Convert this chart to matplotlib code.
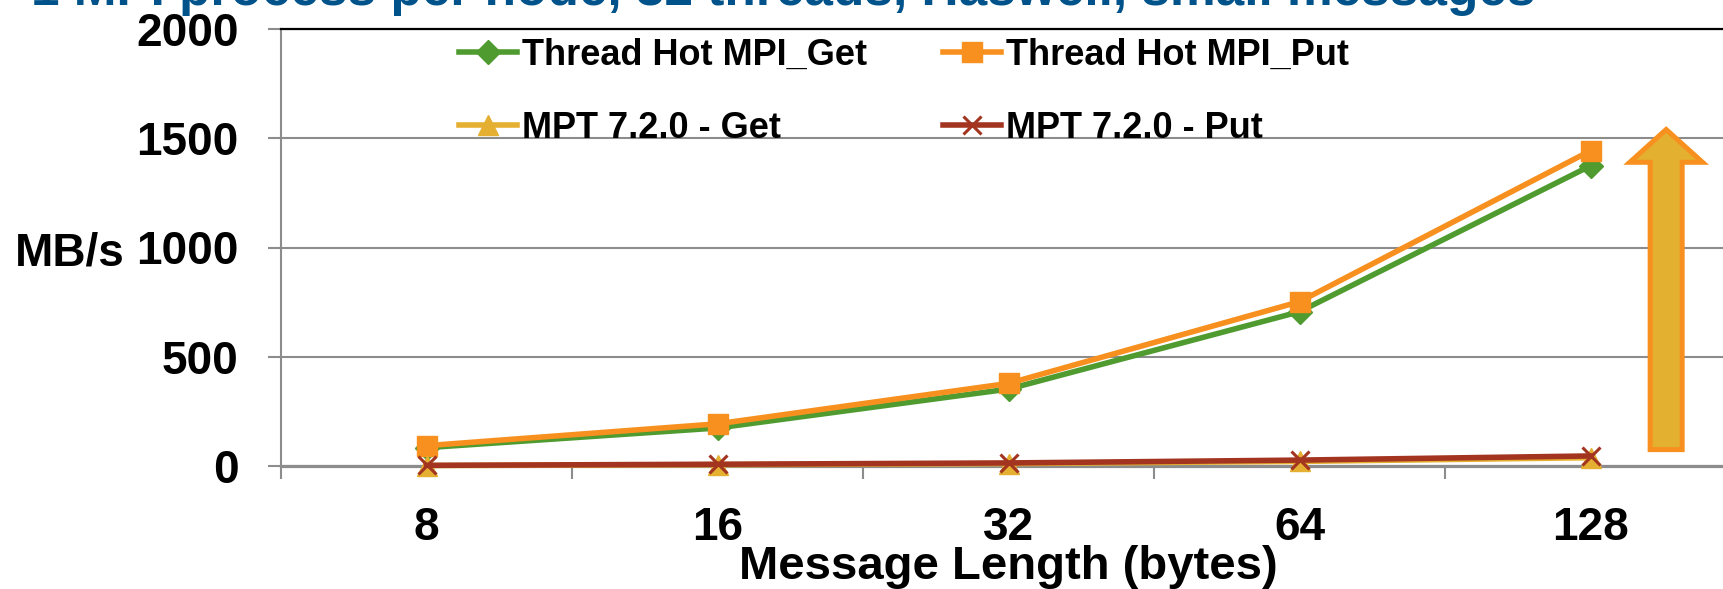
import numpy as np
import matplotlib
matplotlib.use("Agg")
import matplotlib.pyplot as plt
from matplotlib.patches import FancyArrow

plt.rcParams['font.family'] = ['Liberation Sans', 'DejaVu Sans']
plt.rcParams['font.weight'] = 'bold'

# donnees
tailles = ["8", "16", "32", "64", "128"]
hot_get = [84, 174, 352, 706, 1374]
hot_put = [93, 193, 378, 752, 1443]
mpt_get = [2, 6, 11, 21, 38]
mpt_put = [3, 8, 14, 27, 46]

vert = "#4F9B2F"
orange = "#F7901E"
jaune = "#E5B031"
rouge = "#A33520"
gris = "#8C8C8C"

fig = plt.figure(figsize=(17.23, 5.89), dpi=100)
ax = fig.add_axes([281 / 1723, 123 / 589, 1455 / 1723, 437 / 589])

x = np.arange(len(tailles))
l1, = ax.plot(x, hot_get, color=vert, lw=4, marker="D", ms=12, clip_on=False, zorder=3)
l2, = ax.plot(x, hot_put, color=orange, lw=4, marker="s", ms=14, clip_on=False, zorder=4)
l3, = ax.plot(x, mpt_get, color=jaune, lw=4, marker="^", ms=14, clip_on=False, zorder=5)
l4, = ax.plot(x, mpt_put, color=rouge, lw=4, marker="x", ms=13, mew=2.2, clip_on=False, zorder=6)

ax.set_xlim(-0.5, len(tailles) - 0.5)
ax.set_ylim(0, 2000)
ax.set_yticks([0, 500, 1000, 1500, 2000])
ax.set_xticks(x)
ax.set_xticklabels(tailles)
ax.set_xticks(np.arange(-0.5, len(tailles)), minor=True)

ax.yaxis.grid(True, color=gris, lw=1.5)
ax.set_axisbelow(True)
ax.spines["right"].set_visible(False)
ax.spines["top"].set_color("black")
ax.spines["top"].set_linewidth(1.6)
ax.spines["left"].set_color(gris)
ax.spines["left"].set_linewidth(1.5)
ax.spines["bottom"].set_color(gris)
ax.spines["bottom"].set_linewidth(2.3)

ax.tick_params(axis="y", direction="out", length=9.4, width=1.5, color=gris, labelsize=33, pad=21)
ax.tick_params(axis="x", which="major", length=0, labelsize=33, pad=29)
ax.tick_params(axis="x", which="minor", direction="out", length=9.4, width=1.5, color=gris)

# fleche
fl = FancyArrow(4.26, 75, 0, 1465, width=0.11, head_width=0.25, head_length=150,
                length_includes_head=True, facecolor="#E3B030", edgecolor=orange,
                lw=3.6, zorder=7)
ax.add_patch(fl)

# ordre par colonnes pour avoir Thread Hot sur la premiere ligne
fig.legend([l1, l3, l2, l4],
           ["Thread Hot MPI_Get", "MPT 7.2.0 - Get", "Thread Hot MPI_Put", "MPT 7.2.0 - Put"],
           ncols=2, loc="center left", bbox_to_anchor=(459 / 1723, 1 - 92 / 589),
           frameon=False, borderpad=0, borderaxespad=0, handlelength=1.6,
           handletextpad=0.15, columnspacing=2.1, labelspacing=1.05,
           prop={"size": 26, "weight": "bold"})

fig.text(31 / 1723, 1 - 5 / 589, "1 MPI process per node, 32 threads, Haswell, small messages",
         color="#00538A", fontsize=37, fontweight="bold", va="baseline", ha="left")
fig.text(15 / 1723, 1 - 265 / 589, "MB/s", fontsize=33, fontweight="bold", va="baseline", ha="left")
fig.text(1008 / 1723, 1 - 579 / 589, "Message Length (bytes)", fontsize=34, fontweight="bold",
         va="baseline", ha="center")

fig.savefig("out.png", dpi=100)
